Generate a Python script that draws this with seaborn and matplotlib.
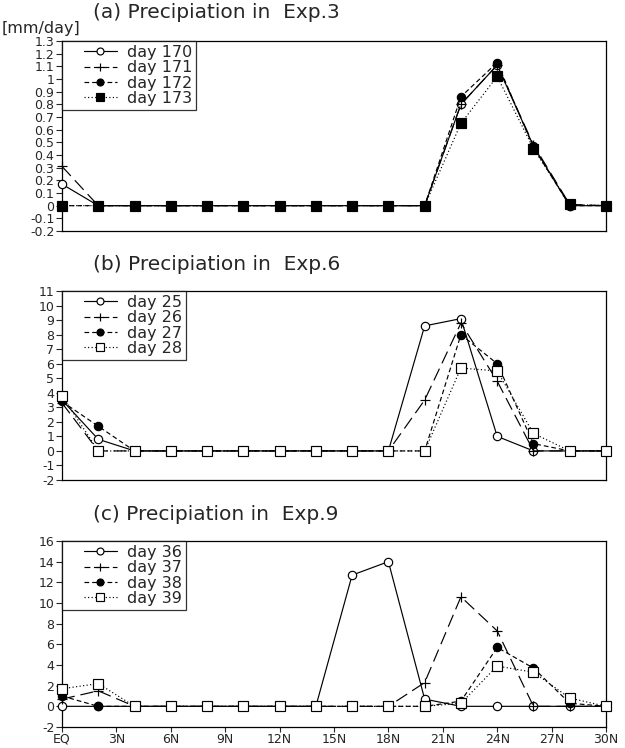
import numpy as np
import pandas as pd
import matplotlib
matplotlib.use("Agg")
import matplotlib.pyplot as plt
from matplotlib.lines import Line2D
from matplotlib.legend_handler import HandlerLine2D
import seaborn as sns

sns.set_theme(style="ticks")
plt.rcParams['font.family'] = ['DejaVu Sans']

lat = [0, 2, 4, 6, 8, 10, 12, 14, 16, 18, 20, 22, 24, 26, 28, 30]
xtick_pos = [0, 3, 6, 9, 12, 15, 18, 21, 24, 27, 30]
xtick_lab = ["EQ", "3N", "6N", "9N", "12N", "15N", "18N", "21N", "24N", "27N", "30N"]

# Panel (a) Exp.3
a_labels = ["day 170", "day 171", "day 172", "day 173"]
a_d170 = [0.17, 0, 0, 0, 0, 0, 0, 0, 0, 0, 0, 0.80, 1.11, 0.47, 0.00, 0]
a_d171 = [0.31, 0, 0, 0, 0, 0, 0, 0, 0, 0, 0, 0.80, 1.11, 0.48, 0.01, 0]
a_d172 = [0.00, 0, 0, 0, 0, 0, 0, 0, 0, 0, 0, 0.86, 1.13, 0.46, 0.00, 0]
a_d173 = [0.00, 0, 0, 0, 0, 0, 0, 0, 0, 0, 0, 0.65, 1.02, 0.45, 0.01, 0]
a_yticks = [-0.2, -0.1, 0, 0.1, 0.2, 0.3, 0.4, 0.5, 0.6, 0.7, 0.8, 0.9, 1.0, 1.1, 1.2, 1.3]
a_ylabels = ["-0.2", "-0.1", "0", "0.1", "0.2", "0.3", "0.4", "0.5", "0.6", "0.7",
             "0.8", "0.9", "1", "1.1", "1.2", "1.3"]

# Panel (b) Exp.6
b_labels = ["day 25", "day 26", "day 27", "day 28"]
b_d25 = [3.5, 0.8, 0, 0, 0, 0, 0, 0, 0, 0, 8.6, 9.1, 1.0, 0.0, 0, 0]
b_d26 = [3.3, 0.0, 0, 0, 0, 0, 0, 0, 0, 0, 3.5, 8.8, 4.8, 0.0, 0, 0]
b_d27 = [3.4, 1.7, 0, 0, 0, 0, 0, 0, 0, 0, 0.0, 8.0, 6.0, 0.5, 0, 0]
b_d28 = [3.8, 0.0, 0, 0, 0, 0, 0, 0, 0, 0, 0.0, 5.7, 5.5, 1.2, 0, 0]
b_yticks = list(range(-2, 12))
b_ylabels = ["-2", "-1", "0", "1", "2", "3", "4", "5", "6", "7", "8", "9", "10", "11"]

# Panel (c) Exp.9
c_labels = ["day 36", "day 37", "day 38", "day 39"]
c_d36 = [0.0, 0.0, 0, 0, 0, 0, 0, 0, 12.7, 14.0, 0.7, 0.0, 0.0, 0.0, 0.0, 0]
c_d37 = [0.7, 1.5, 0, 0, 0, 0, 0, 0, 0.0, 0.0, 2.3, 10.6, 7.3, 0.0, 0.0, 0]
c_d38 = [1.0, 0.0, 0, 0, 0, 0, 0, 0, 0.0, 0.0, 0.0, 0.5, 5.7, 3.7, 0.3, 0]
c_d39 = [1.7, 2.2, 0, 0, 0, 0, 0, 0, 0.0, 0.0, 0.0, 0.3, 3.9, 3.3, 0.8, 0]
c_yticks = list(range(-2, 17, 2))
c_ylabels = ["-2", "0", "2", "4", "6", "8", "10", "12", "14", "16"]

W, H = 625, 748
fig = plt.figure(figsize=(W / 100, H / 100), dpi=100)
fig.patch.set_facecolor("white")

def axrect(top, bottom, left=62, right=606):
    return [left / W, 1 - bottom / H, (right - left) / W, (bottom - top) / H]

styles = [
    dict(linestyle="-", marker="o", mfc="white", mec="black", ms=6),
    dict(linestyle=(0, (11, 5)), marker="+", mfc="black", mec="black", ms=7),
    dict(linestyle=(0, (4, 2.5)), marker="o", mfc="black", mec="black", ms=6),
    dict(linestyle=(0, (1, 2)), marker="s", mfc="white", mec="black", ms=6.5),
]

def panel(rect, series, labels, yticks, ylabels, ylim, title, title_y, xlabels, sq_fill="white"):
    ax = fig.add_axes(rect)
    ax.set_facecolor("white")
    for i, (vals, lab) in enumerate(zip(series, labels)):
        st = dict(styles[i])
        if i == 3:
            st["mfc"] = sq_fill
        df = pd.DataFrame({"lat": lat, "val": vals})
        sns.lineplot(data=df, x="lat", y="val", ax=ax, color="black", lw=0.85,
                     linestyle=st["linestyle"], marker=st["marker"],
                     markerfacecolor=st["mfc"], markeredgecolor=st["mec"],
                     markersize=st["ms"], markeredgewidth=0.85, clip_on=False,
                     legend=False, zorder=3 + i)
    ax.set_xlim(0, 30)
    ax.set_ylim(*ylim)
    ax.set_yticks(yticks)
    ax.set_yticklabels(ylabels, fontsize=9)
    ax.set_xticks(xtick_pos)
    if xlabels:
        ax.set_xticklabels(xtick_lab, fontsize=9)
        ax.tick_params(axis="x", length=3.5, width=0.8, direction="out", pad=0.5)
    else:
        ax.set_xticklabels([])
        ax.tick_params(axis="x", length=0)
    ax.tick_params(axis="y", length=4, width=0.8, direction="out", pad=1.5)
    ax.set_xlabel("")
    ax.set_ylabel("")
    for s in ax.spines.values():
        s.set_visible(True)
        s.set_color("black")
        s.set_linewidth(0.9)
    handles = []
    for i, lab in enumerate(labels):
        st = dict(styles[i])
        if i == 3:
            st["mfc"] = sq_fill
        handles.append(Line2D([], [], color="black", lw=0.85, linestyle=st["linestyle"] if i != 1 else (0, (5, 3)),
                              marker=st["marker"], markerfacecolor=st["mfc"],
                              markeredgecolor=st["mec"], markersize=st["ms"] - 1,
                              markeredgewidth=0.85))
    leg = ax.legend(handles, labels, loc="upper left",
                    bbox_to_anchor=(0, 1), borderaxespad=0, frameon=True,
                    fancybox=False, edgecolor="black", fontsize=11.5,
                    handlelength=3.2, handletextpad=0.6, labelspacing=0.02,
                    borderpad=0.25,
                    handler_map={Line2D: HandlerLine2D(xpad=1.1)})
    leg.get_frame().set_linewidth(0.9)
    leg.set_zorder(10)
    fig.text(93 / W, 1 - title_y / H, title, fontsize=14.5, ha="left", va="center")
    return ax

panel(axrect(41, 231), [a_d170, a_d171, a_d172, a_d173], a_labels, a_yticks, a_ylabels,
      (-0.2, 1.3), "(a) Precipiation in  Exp.3", 12, False, sq_fill="black")
fig.text(2 / W, 1 - 28 / H, "[mm/day]", fontsize=11.5, ha="left", va="center")
panel(axrect(291, 480), [b_d25, b_d26, b_d27, b_d28], b_labels, b_yticks, b_ylabels,
      (-2, 11), "(b) Precipiation in  Exp.6", 264, False)
panel(axrect(541, 727), [c_d36, c_d37, c_d38, c_d39], c_labels, c_yticks, c_ylabels,
      (-2, 16), "(c) Precipiation in  Exp.9", 514, True)

fig.savefig("out.png", dpi=100, facecolor="white")
